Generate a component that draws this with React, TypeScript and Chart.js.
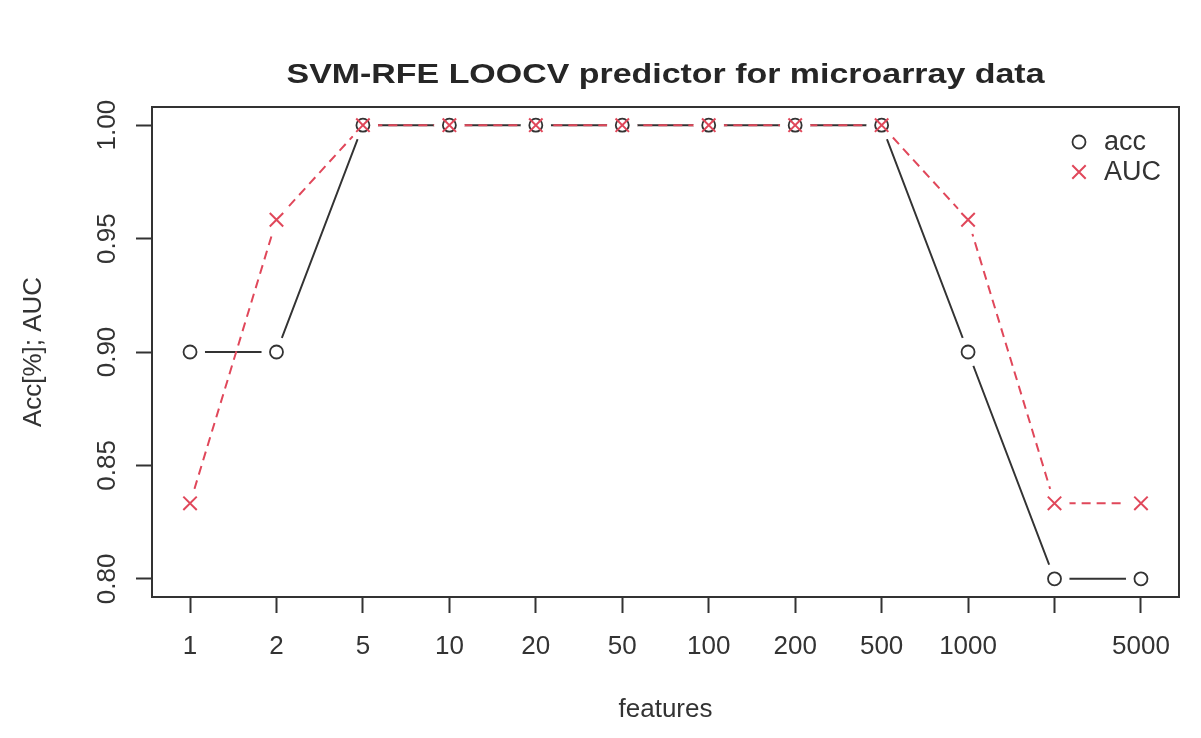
import React, { useEffect, useRef } from "react";
import { Chart, registerables } from "chart.js";

Chart.register(...registerables);

// ---- data ----
const features = ["1", "2", "5", "10", "20", "50", "100", "200", "500", "1000", "2000", "5000"];
const xTickLabels = ["1", "2", "5", "10", "20", "50", "100", "200", "500", "1000", "", "5000"];
const accValues = [0.9, 0.9, 1, 1, 1, 1, 1, 1, 1, 0.9, 0.8, 0.8];
const aucValues = [0.8333, 0.9583, 1, 1, 1, 1, 1, 1, 1, 0.9583, 0.8333, 0.8333];
const yTicks = [0.8, 0.85, 0.9, 0.95, 1.0];
const titleText = "SVM-RFE LOOCV predictor for microarray data";
const xTitle = "features";
const yTitle = "Acc[%]; AUC";
const legendLabels = ["acc", "AUC"];

const INK = "#333333";
const RED = "#E0475A";
const FONT = "'Liberation Sans', Arial, sans-serif";

const toXY = (vals: number[]) => vals.map((v, i) => ({ x: i + 1, y: v }));

const rPlotPlugin = {
  id: "rplot",
  afterDraw(chart: any) {
    const { ctx, chartArea: a, scales } = chart;
    ctx.save();
    // box
    ctx.strokeStyle = INK;
    ctx.lineWidth = 2;
    ctx.strokeRect(a.left, a.top, a.right - a.left, a.bottom - a.top);

    // main title, centred over the plot region (as R does)
    ctx.save();
    ctx.fillStyle = "#262626";
    ctx.font = `bold 28px ${FONT}`;
    const w = ctx.measureText(titleText).width;
    const sx = 758 / w;
    ctx.translate((a.left + a.right) / 2, 83);
    ctx.scale(sx, 1);
    ctx.textAlign = "center";
    ctx.textBaseline = "alphabetic";
    ctx.fillText(titleText, 0, 0);
    ctx.restore();

    // y tick labels (rotated like R's las=0)
    ctx.fillStyle = INK;
    ctx.font = `26px ${FONT}`;
    yTicks.forEach((v) => {
      const y = scales.y.getPixelForValue(v);
      ctx.save();
      ctx.translate(a.left - 37, y);
      ctx.rotate(-Math.PI / 2);
      ctx.textAlign = "center";
      ctx.textBaseline = "alphabetic";
      ctx.fillText(v.toFixed(2), 0, 0);
      ctx.restore();
    });

    // legend
    const lx = a.right - 100;
    const ly1 = a.top + 35;
    const ly2 = a.top + 65;
    ctx.strokeStyle = INK;
    ctx.lineWidth = 1.8;
    ctx.beginPath();
    ctx.arc(lx, ly1, 6.5, 0, Math.PI * 2);
    ctx.stroke();
    ctx.strokeStyle = RED;
    ctx.lineWidth = 2;
    const d = 6.7;
    ctx.beginPath();
    ctx.moveTo(lx - d, ly2 - d);
    ctx.lineTo(lx + d, ly2 + d);
    ctx.moveTo(lx - d, ly2 + d);
    ctx.lineTo(lx + d, ly2 - d);
    ctx.stroke();
    ctx.fillStyle = INK;
    ctx.font = `27px ${FONT}`;
    ctx.textAlign = "left";
    ctx.textBaseline = "middle";
    ctx.fillText(legendLabels[0], lx + 25, ly1 + 1);
    ctx.fillText(legendLabels[1], lx + 25, ly2 + 1);
    ctx.restore();
  },
};

export default function App() {
  const ref = useRef<HTMLCanvasElement | null>(null);

  useEffect(() => {
    document.body.style.margin = "0";
    document.body.style.background = "#ffffff";
    if (!ref.current) return;
    const chart = new Chart(ref.current, {
      type: "line",
      data: {
        datasets: [
          {
            label: "acc-line",
            data: toXY(accValues),
            borderColor: INK,
            borderWidth: 2,
            pointRadius: 0,
            fill: false,
            order: 5,
          },
          {
            label: "auc-line",
            data: toXY(aucValues),
            borderColor: RED,
            borderWidth: 2,
            borderDash: [9, 6],
            pointRadius: 0,
            fill: false,
            order: 4,
          },
          {
            label: "gap-mask",
            data: [...toXY(accValues), ...toXY(aucValues)],
            showLine: false,
            pointRadius: 15,
            pointBorderWidth: 0,
            pointBackgroundColor: "#ffffff",
            pointBorderColor: "#ffffff",
            order: 3,
          },
          {
            label: legendLabels[0],
            data: toXY(accValues),
            showLine: false,
            pointStyle: "circle",
            pointRadius: 6.5,
            pointBorderWidth: 1.8,
            pointBorderColor: INK,
            pointBackgroundColor: "rgba(0,0,0,0)",
            order: 2,
          },
          {
            label: legendLabels[1],
            data: toXY(aucValues),
            showLine: false,
            pointStyle: "crossRot",
            pointRadius: 9.5,
            pointBorderWidth: 2,
            pointBorderColor: RED,
            pointBackgroundColor: RED,
            order: 1,
          },
        ],
      },
      options: {
        responsive: false,
        animation: false,
        layout: { padding: { left: 0, right: 22, top: 107, bottom: 0 } },
        plugins: {
          legend: { display: false },
          tooltip: { enabled: false },
          title: { display: false },
        },
        scales: {
          x: {
            type: "linear",
            min: 0.56,
            max: 12.44,
            afterBuildTicks: (axis: any) => {
              axis.ticks = features.map((_, i) => ({ value: i + 1 }));
            },
            afterFit: (axis: any) => {
              axis.height = 141;
            },
            ticks: {
              autoSkip: false,
              maxRotation: 0,
              minRotation: 0,
              padding: 18,
              color: INK,
              font: { family: FONT, size: 26 },
              callback: (v: any) => xTickLabels[Math.round(Number(v)) - 1] ?? "",
            },
            grid: {
              display: true,
              drawOnChartArea: false,
              drawTicks: true,
              tickLength: 16,
              tickColor: INK,
              tickWidth: 2,
            },
            border: { display: false },
            title: {
              display: true,
              text: xTitle,
              color: INK,
              font: { family: FONT, size: 26 },
              padding: { top: 0, bottom: 12.4 },
            },
          },
          y: {
            type: "linear",
            min: 0.792,
            max: 1.008,
            afterBuildTicks: (axis: any) => {
              axis.ticks = yTicks.map((v) => ({ value: v }));
            },
            afterFit: (axis: any) => {
              axis.width = 152;
            },
            ticks: { display: false },
            grid: {
              display: true,
              drawOnChartArea: false,
              drawTicks: true,
              tickLength: 16,
              tickColor: INK,
              tickWidth: 2,
            },
            border: { display: false },
            title: {
              display: true,
              text: yTitle,
              color: INK,
              font: { family: FONT, size: 26 },
              padding: { top: 18.4, bottom: 0 },
            },
          },
        },
      },
      plugins: [rPlotPlugin],
    });
    return () => chart.destroy();
  }, []);

  return <canvas ref={ref} width={1201} height={738} style={{ display: "block" }} />;
}
